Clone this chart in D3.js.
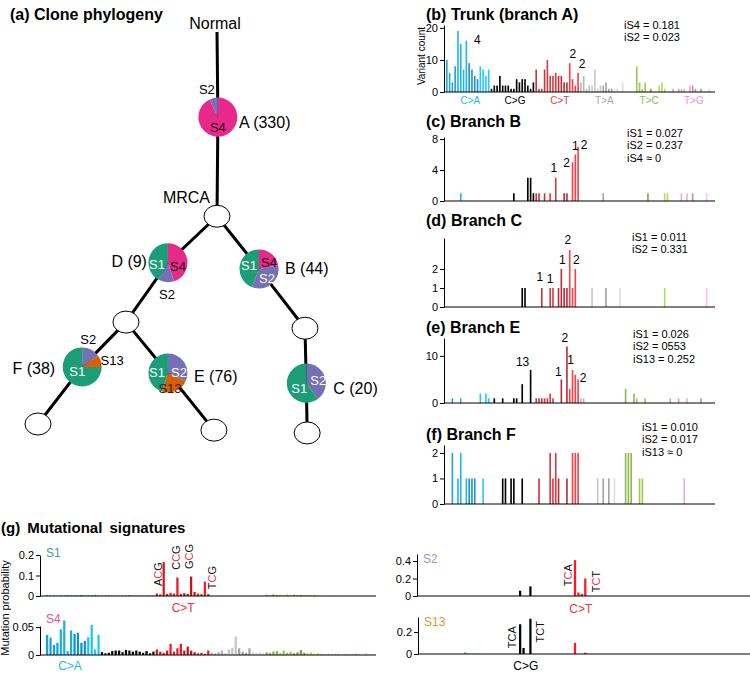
<!DOCTYPE html>
<html>
<head>
<meta charset="utf-8">
<script src="https://cdnjs.cloudflare.com/ajax/libs/d3/7.8.5/d3.min.js"></script>
<style>
  body { margin: 0; background: #fff; }
  svg { font-family: "Liberation Sans", Arial, sans-serif; display: block; }
</style>
</head>
<body>
<div id="fig"></div>
<script>
// ---------- mutation channels (96 = 6 types x 16 trinucleotide contexts) ----------
const mutTypes = ["C>A", "C>G", "C>T", "T>A", "T>C", "T>G"];
const mutColors = ["#22b5e8", "#000000", "#d93a42", "#c8c8c8", "#9cca55", "#eeaadb"];
const mutLabelColors = ["#2bb8ee", "#000000", "#e23b44", "#a8a8a8", "#8fba58", "#ee8fe2"];
const sigColorsByType = ["#1ab0e6", "#000000", "#f0141e", "#c4c4c4", "#98c94f", "#e8b4d0"];
const flankBases = ["A", "C", "G", "T"];

// ---------- (a) clone phylogeny ----------
const cloneSizes = { A: 330, B: 44, C: 20, D: 9, E: 76, F: 38 };
// signature shares per clone, clockwise from 12 o'clock
const cloneA = [["S4", 0.93], ["S2", 0.07]];
const cloneB = [["S4", 0.22], ["S2", 0.34], ["S1", 0.44]];
const cloneC = [["S2", 0.40], ["S1", 0.60]];
const cloneD = [["S4", 0.45], ["S2", 0.13], ["S1", 0.42]];
const cloneE = [["S2", 0.32], ["S13", 0.23], ["S1", 0.45]];
const cloneF = [["S2", 0.15], ["S13", 0.10], ["S1", 0.75]];
const sigColors = { S1: "#1b9e77", S2: "#7570b3", S4: "#e7298a", S13: "#d95f02" };

// ---------- (b) trunk: variant counts ----------
const trunkCA = [10, 6, 3, 8, 19, 15, 7, 16, 9, 7, 5, 4, 8, 7, 5, 7];
const trunkCG = [1, 2, 2, 5, 2, 2, 2, 1, 1, 4, 3, 4, 4, 2, 1, 3];
const trunkCT = [7, 1, 1, 7, 10, 5, 5, 6, 5, 5, 3, 3, 9, 4, 2, 6];
const trunkTA = [3, 5, 1, 2, 2, 7, 1, 2, 2, 3, 1, 1, 1, 1, 0, 3];
const trunkTC = [0, 0, 0, 0, 8, 3, 1, 3, 0, 1, 0, 0, 2, 3, 1, 0];
const trunkTG = [0, 1, 0, 1, 1, 1, 0, 2, 2, 1, 0, 1, 0, 0, 1, 0];

// ---------- (c)-(f) branches: [channel, count] ----------
const branchB = [[5, 1], [24, 1], [29, 3], [30, 3], [31, 1], [32, 1], [33, 1], [35, 1], [37, 1], [39, 3],
  [42, 1], [43, 1], [45, 5], [46, 6], [47, 7], [56, 1], [72, 1], [78, 1], [79, 1], [84, 1], [86, 1], [88, 1], [93, 1]];
const branchC = [[27, 1], [28, 1], [34, 1], [37, 1], [38, 1], [40, 1], [41, 2], [42, 1], [43, 1], [44, 3],
  [45, 1], [46, 2], [52, 1], [57, 1], [62, 1], [78, 1], [93, 1]];
const branchE = [[2, 1], [5, 1], [12, 2], [14, 2], [15, 1], [17, 1], [20, 1], [24, 1], [25, 1], [27, 4], [30, 7],
  [32, 1], [33, 1], [34, 1], [35, 1], [36, 1], [37, 2], [38, 1], [41, 5], [43, 12], [44, 3], [45, 7], [46, 6], [47, 5],
  [48, 1], [49, 1], [64, 3], [67, 2], [68, 1], [71, 1], [80, 1], [83, 1], [86, 1], [91, 1]];
const branchF = [[2, 2], [4, 1], [5, 2], [7, 1], [8, 1], [9, 1], [10, 1], [13, 1], [20, 1], [21, 1], [23, 1], [24, 1], [27, 1],
  [33, 1], [37, 2], [38, 1], [39, 2], [40, 1], [43, 1], [45, 2], [46, 2], [47, 2], [54, 1], [56, 1], [58, 1], [60, 1],
  [64, 2], [65, 2], [66, 2], [69, 1], [70, 1], [85, 1]];

// signature attribution labels above bars: [channel, text, dx, dy]
const annTrunk = [[7, "4", 11, 6], [44, "2", 3, -2], [47, "2", 4, -2]];
const annB = [[39, "1", -2, -3], [45, "2", -6, 8], [46, "1", 0, -2], [47, "2", 6, 5]];
const annC = [[34, "1", -2, -4], [37, "1", 0, -2], [41, "1", 1, -2], [44, "2", -2, -3], [46, "2", 1, -2]];
const annE = [[30, "13", -8, -1], [41, "1", -3, 0], [43, "2", -2, -1], [45, "1", -2, -3], [47, "2", 5, 6]];

// ---------- (g) mutational signatures: probabilities ----------
const s1CA = [0.004, 0.002, 0.003, 0.002, 0.003, 0.002, 0.004, 0.003, 0.002, 0.003, 0.005, 0.002, 0.003, 0.004, 0.006, 0.003];
const s1CG = [0.001, 0.001, 0.002, 0.001, 0.001, 0.001, 0.001, 0.001, 0.002, 0.001, 0.001, 0.001, 0.001, 0.001, 0.001, 0.001];
const s1CT = [0.012, 0.008, 0.165, 0.010, 0.015, 0.012, 0.090, 0.011, 0.014, 0.010, 0.095, 0.020, 0.012, 0.009, 0.070, 0.010];
const s1TA = [0.001, 0.001, 0.001, 0.001, 0.001, 0.001, 0.002, 0.001, 0.001, 0.001, 0.001, 0.001, 0.001, 0.001, 0.001, 0.001];
const s1TC = [0.006, 0.004, 0.008, 0.005, 0.005, 0.003, 0.007, 0.004, 0.006, 0.004, 0.005, 0.003, 0.005, 0.004, 0.006, 0.003];
const s1TG = [0.001, 0.001, 0.001, 0.001, 0.001, 0.001, 0.001, 0.001, 0.001, 0.001, 0.001, 0.001, 0.001, 0.001, 0.001, 0.001];

const s4CA = [0.036, 0.031, 0.018, 0.022, 0.046, 0.062, 0.007, 0.044, 0.038, 0.040, 0.022, 0.025, 0.032, 0.054, 0.010, 0.036];
const s4CG = [0.005, 0.003, 0.004, 0.007, 0.008, 0.008, 0.005, 0.009, 0.008, 0.006, 0.008, 0.006, 0.004, 0.007, 0.003, 0.006];
const s4CT = [0.010, 0.006, 0.004, 0.008, 0.020, 0.006, 0.012, 0.020, 0.008, 0.015, 0.008, 0.005, 0.003, 0.004, 0.002, 0.008];
const s4TA = [0.004, 0.003, 0.006, 0.008, 0.003, 0.010, 0.013, 0.033, 0.012, 0.006, 0.004, 0.012, 0.005, 0.004, 0.005, 0.003];
const s4TC = [0.005, 0.004, 0.006, 0.007, 0.003, 0.008, 0.004, 0.006, 0.003, 0.005, 0.009, 0.004, 0.003, 0.005, 0.002, 0.003];
const s4TG = [0.002, 0.001, 0.002, 0.001, 0.002, 0.002, 0.001, 0.002, 0.001, 0.001, 0.002, 0.001, 0.001, 0.004, 0.001, 0.001];

const s2Sparse = [[28, 0.06], [31, 0.11], [44, 0.41], [45, 0.04], [46, 0.025], [47, 0.20]];
const s13Sparse = [[12, 0.015], [13, 0.004], [15, 0.003], [28, 0.27], [29, 0.055], [31, 0.32], [44, 0.10], [47, 0.012]];

// ---------- helpers ----------
const shadeSteps = [0.25, 0, 0.55, -0.3];
function channelColor(i, palette) {
  const c = d3.rgb(palette[Math.floor(i / 16)]);
  const s = shadeSteps[Math.floor((i % 16) / 4)];
  return (s >= 0 ? c.darker(s) : c.brighter(-s)).formatHex();
}
const toPairs = arr => arr.map((v, i) => [i, v]);
const dense = (...groups) => toPairs([].concat(...groups));

const svg = d3.select("#fig").append("svg").attr("width", 750).attr("height", 679);

// =============== (a) clone phylogeny ===============
const tx = d3.scaleLinear().domain([0, 1]).range([38, 82.2]);
const ty = d3.scaleLinear().domain([0, 1]).range([32, 88]);

const treeNodes = [
  { id: "N", col: 4.05, row: 0 },
  { id: "A", col: 4.07, row: 1.52, pie: cloneA },
  { id: "MRCA", col: 4.05, row: 3.29 },
  { id: "D", col: 2.94, row: 4.12, pie: cloneD },
  { id: "B", col: 5.0, row: 4.23, pie: cloneB },
  { id: "n2", col: 1.99, row: 5.18 },
  { id: "n3", col: 6.04, row: 5.29 },
  { id: "F", col: 1.0, row: 5.98, pie: cloneF },
  { id: "E", col: 2.94, row: 6.09, pie: cloneE },
  { id: "C", col: 6.07, row: 6.27, pie: cloneC },
  { id: "lF", col: 0, row: 7.0 },
  { id: "lE", col: 3.98, row: 7.11 },
  { id: "lC", col: 6.09, row: 7.16 }
];
const treeEdges = [["N", "A"], ["A", "MRCA"], ["MRCA", "D"], ["MRCA", "B"], ["D", "n2"], ["n2", "F"], ["n2", "E"],
  ["F", "lF"], ["E", "lE"], ["B", "n3"], ["n3", "C"], ["C", "lC"]];
const nodeById = new Map(treeNodes.map(d => [d.id, d]));

// label nudges for pie slices: [sig, dx, dy, colour]
const pieLabels = {
  A: [["S2", -11, -28, "#000"], ["S4", 0, 10, "#2a0a18"]],
  D: [["S1", -11, 2, "#fff"], ["S4", 10, 4, "#2a0a18"], ["S2", -1, 32, "#000"]],
  B: [["S1", -10, -3, "#fff"], ["S4", 10, -6, "#2a0a18"], ["S2", 8, 10, "#fff"]],
  F: [["S2", 6, -27, "#000"], ["S13", 30, -6, "#000"], ["S1", -5, 5, "#fff"]],
  E: [["S1", -11, -1, "#fff"], ["S2", 11, -1, "#fff"], ["S13", 2, 15, "#222"]],
  C: [["S1", -7, 5, "#fff"], ["S2", 12, -3, "#fff"]]
};
const cloneLabelPos = {
  A: [21, 5, "start"], D: [-21, -1, "end"], B: [26, 0, "start"],
  F: [-27, 2, "end"], E: [26, 3, "start"], C: [27, 5, "start"]
};

const ga = svg.append("g");
ga.append("text").attr("x", 10).attr("y", 20).attr("font-size", 16).attr("font-weight", "bold")
  .text("(a) Clone phylogeny");

ga.selectAll("line.edge").data(treeEdges).join("line")
  .attr("x1", d => tx(nodeById.get(d[0]).col)).attr("y1", d => ty(nodeById.get(d[0]).row))
  .attr("x2", d => tx(nodeById.get(d[1]).col)).attr("y2", d => ty(nodeById.get(d[1]).row))
  .attr("stroke", "#000").attr("stroke-width", 3);

const normal = nodeById.get("N");
ga.append("text").attr("x", tx(normal.col) - 2).attr("y", ty(normal.row) - 9)
  .attr("text-anchor", "middle").attr("dominant-baseline", "central").attr("font-size", 16).text("Normal");

const mrca = nodeById.get("MRCA");
ga.append("text").attr("x", tx(mrca.col) - 7).attr("y", ty(mrca.row) - 19)
  .attr("text-anchor", "end").attr("dominant-baseline", "central").attr("font-size", 16).text("MRCA");

ga.selectAll("ellipse.node").data(treeNodes.filter(d => !d.pie && d.id !== "N")).join("ellipse")
  .attr("cx", d => tx(d.col)).attr("cy", d => ty(d.row))
  .attr("rx", 13).attr("ry", 11)
  .attr("fill", "#fff").attr("stroke", "#000").attr("stroke-width", 1);

const pie = d3.pie().sort(null).value(d => d[1]);
const arc = d3.arc().innerRadius(0).outerRadius(19.5);

treeNodes.filter(d => d.pie).forEach(n => {
  const g = ga.append("g").attr("transform", `translate(${tx(n.col)},${ty(n.row)})`);
  g.selectAll("path").data(pie(n.pie)).join("path")
    .attr("d", arc).attr("fill", d => sigColors[d.data[0]]);
  g.selectAll("text.sl").data(pieLabels[n.id]).join("text")
    .attr("x", d => d[1]).attr("y", d => d[2])
    .attr("text-anchor", "middle").attr("dominant-baseline", "central")
    .attr("font-size", 13).attr("fill", d => d[3]).text(d => d[0]);
  const lp = cloneLabelPos[n.id];
  g.append("text").attr("x", lp[0]).attr("y", lp[1])
    .attr("text-anchor", lp[2]).attr("dominant-baseline", "central")
    .attr("font-size", 16).text(`${n.id} (${cloneSizes[n.id]})`);
});

// =============== (b)-(f) branch spectra ===============
const xCh = d3.scaleBand().domain(d3.range(96)).range([446, 713]).paddingInner(0.42);
const chStep = xCh.step();

const branchPanels = [
  { title: "(b) Trunk (branch A)", bars: dense(trunkCA, trunkCG, trunkCT, trunkTA, trunkTC, trunkTG), ann: annTrunk,
    stats: ["iS4 = 0.181", "iS2 = 0.023"], titleY: 20, base: 92, top: 25, max: 20.9, ticks: [0, 10, 20],
    statX: 624, statY: 29, cats: true },
  { title: "(c) Branch B", bars: branchB, ann: annB, stats: ["iS1 = 0.027", "iS2 = 0.237", "iS4 \u2248 0"],
    titleY: 127, base: 201, top: 137, max: 8.26, ticks: [0, 4, 8], statX: 627, statY: 137 },
  { title: "(d) Branch C", bars: branchC, ann: annC, stats: ["iS1 = 0.011", "iS2 = 0.331"],
    titleY: 226, base: 307, top: 238, max: 3.63, ticks: [0, 1, 2], statX: 632, statY: 241 },
  { title: "(e) Branch E", bars: branchE, ann: annE, stats: ["iS1 = 0.026", "iS2 = 0553", "iS13 = 0.252"],
    titleY: 333, base: 403, top: 338, max: 13.8, ticks: [0, 10], statX: 633, statY: 338 },
  { title: "(f) Branch F", bars: branchF, ann: [], stats: ["iS1 = 0.010", "iS2 = 0.017", "iS13 \u2248 0"],
    titleY: 440, base: 504, top: 445, max: 2.31, ticks: [0, 1, 2], statX: 642, statY: 431 }
];

branchPanels.forEach(p => {
  const g = svg.append("g");
  const y = d3.scaleLinear().domain([0, p.max]).range([p.base, p.top]);
  const cx = i => xCh(i) + xCh.bandwidth() / 2;

  g.append("text").attr("x", 426).attr("y", p.titleY)
    .attr("font-size", 16).attr("font-weight", "bold").text(p.title);

  g.selectAll("rect").data(p.bars.filter(d => d[1] > 0)).join("rect")
    .attr("x", d => xCh(d[0])).attr("width", xCh.bandwidth())
    .attr("y", d => y(d[1])).attr("height", d => y(0) - y(d[1]))
    .attr("fill", d => channelColor(d[0], mutColors));

  const ax = g.append("g").attr("transform", "translate(444,0)")
    .call(d3.axisLeft(y).tickValues(p.ticks).tickFormat(d3.format("d")).tickSize(4).tickSizeOuter(0).tickPadding(2));
  ax.attr("font-size", 11).attr("font-family", null);
  ax.selectAll("path,line").attr("stroke", "#000");

  g.append("line").attr("x1", 444).attr("x2", 715).attr("y1", p.base).attr("y2", p.base)
    .attr("stroke", "#000").attr("stroke-width", 1);

  const barTop = i => y((p.bars.find(b => b[0] === i) || [i, 0])[1]);
  g.selectAll("text.ann").data(p.ann).join("text")
    .attr("x", d => cx(d[0]) + d[2]).attr("y", d => barTop(d[0]) - 3 + d[3])
    .attr("text-anchor", "middle").attr("font-size", 12).text(d => d[1]);

  g.selectAll("text.stat").data(p.stats).join("text")
    .attr("x", p.statX).attr("y", (d, i) => p.statY + i * 12.3)
    .attr("font-size", 11).text(d => d);

  if (p.cats) {
    g.selectAll("text.cat").data(mutTypes).join("text")
      .attr("x", (d, i) => xCh(i * 16) + 8 * chStep + 2).attr("y", p.base + 12)
      .attr("text-anchor", "middle").attr("font-size", 10)
      .attr("fill", (d, i) => mutLabelColors[i]).text(d => d);
  }
});

svg.append("text").attr("transform", "translate(425,56) rotate(-90)")
  .attr("text-anchor", "middle").attr("font-size", 10).text("Variant count");

// =============== (g) mutational signatures ===============
svg.append("text").attr("x", 1).attr("y", 533).attr("font-size", 15).attr("font-weight", "bold")
  .attr("word-spacing", 3).text("(g) Mutational signatures");
svg.append("text").attr("transform", "translate(9,608) rotate(-90)")
  .attr("text-anchor", "middle").attr("font-size", 11).text("Mutation probability");

const sigPanels = [
  { name: "S1", bars: dense(s1CA, s1CG, s1CT, s1TA, s1TC, s1TG), axisX: 40, xr: [46, 374], xEnd: 376,
    base: 596, top: 555, max: 0.2, ticks: [0, 0.1, 0.2], color: "#36a987", nameY: 557,
    cat: [39.5, "C>T", "#e8343b", 612], ctx: [[34, "ACG", -6, 12], [38, "CCG", -1, -20], [42, "GCG", -2, -20], [46, "TCG", 7, -4]], redMid: true },
  { name: "S2", bars: s2Sparse, axisX: 417, xr: [423, 751], xEnd: 750,
    base: 596, top: 554, max: 0.48, ticks: [0, 0.2, 0.4], color: "#9a98cc", nameY: 563,
    cat: [45.5, "C>T", "#e8343b", 613], ctx: [[44, "TCA", -7, 15], [47, "TCT", 11, 3]], redMid: true },
  { name: "S4", bars: dense(s4CA, s4CG, s4CT, s4TA, s4TC, s4TG), axisX: 40, xr: [46, 374], xEnd: 376,
    base: 655, top: 626, max: 0.052, ticks: [0, 0.05], color: "#e5508f", nameY: 623,
    cat: [6.5, "C>A", "#27b8ee", 670], ctx: [] },
  { name: "S13", bars: s13Sparse, axisX: 418, xr: [423, 751], xEnd: 750,
    base: 654, top: 617, max: 0.336, ticks: [0, 0.2], color: "#e8913a", nameY: 626,
    cat: [29.5, "C>G", "#000", 670], ctx: [[28, "TCA", -8, 13], [31, "TCT", 10, 13]], redMid: false }
];

sigPanels.forEach(p => {
  const g = svg.append("g");
  const x = d3.scaleBand().domain(d3.range(96)).range(p.xr).paddingInner(0.35);
  const y = d3.scaleLinear().domain([0, p.max]).range([p.base, p.top]);
  const cx = i => x(i) + x.bandwidth() / 2;

  g.selectAll("rect").data(p.bars.filter(d => d[1] > 0)).join("rect")
    .attr("x", d => x(d[0])).attr("width", x.bandwidth())
    .attr("y", d => y(d[1])).attr("height", d => y(0) - y(d[1]))
    .attr("fill", d => channelColor(d[0], sigColorsByType));

  const ax = g.append("g").attr("transform", `translate(${p.axisX},0)`)
    .call(d3.axisLeft(y).tickValues(p.ticks).tickFormat(d => String(d)).tickSize(4).tickSizeOuter(0).tickPadding(2));
  ax.attr("font-size", 11).attr("font-family", null);
  ax.selectAll("path,line").attr("stroke", "#000");

  g.append("line").attr("x1", p.axisX).attr("x2", p.xEnd).attr("y1", p.base).attr("y2", p.base)
    .attr("stroke", "#000").attr("stroke-width", 1.2);

  g.append("text").attr("x", p.axisX + 6).attr("y", p.nameY)
    .attr("font-size", 12).attr("fill", p.color).text(p.name);

  g.append("text").attr("x", p.xr[0] + (p.cat[0] + 0.5) * x.step()).attr("y", p.cat[3])
    .attr("text-anchor", "middle").attr("font-size", 12).attr("fill", p.cat[2]).text(p.cat[1]);

  const barTop = i => y((p.bars.find(b => b[0] === i) || [i, 0])[1]);
  p.ctx.forEach(c => {
    const t = g.append("text")
      .attr("transform", `translate(${cx(c[0]) + c[2]},${barTop(c[0]) + c[3]}) rotate(-90)`)
      .attr("text-anchor", "middle").attr("dominant-baseline", "central").attr("font-size", 11);
    c[1].split("").forEach((ch, k) => {
      t.append("tspan").attr("fill", k === 1 && p.redMid ? "#e8343b" : "#111").text(ch);
    });
  });
});
</script>
</body>
</html>
